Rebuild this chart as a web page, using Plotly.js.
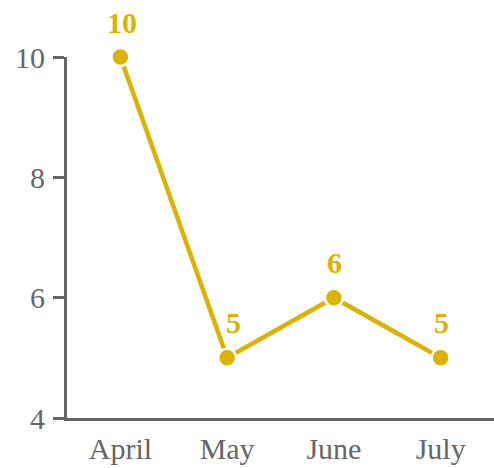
<!DOCTYPE html>
<html>
<head>
<meta charset="utf-8">
<script src="https://cdn.plot.ly/plotly-3.0.1.min.js"></script>
<style>
  html, body { margin: 0; padding: 0; background: #fff; }
  #chart { width: 494px; height: 468px; }
</style>
</head>
<body>
<div id="chart"></div>
<script>
// Monthly values
const months = ['April', 'May', 'June', 'July'];
const values = [10, 5, 6, 5];
const yTicks = [4, 6, 8, 10];

const gold = '#DBB300';
const grey = '#666666';
const serif = '"Liberation Serif", "DejaVu Serif", serif';

// Horizontal nudge for each value label
const labelShift = [2, 6, 1, 1];

const trace = {
  type: 'scatter',
  mode: 'lines+markers',
  x: months,
  y: values,
  line: { color: gold, width: 4.5 },
  marker: { color: gold, size: 18, line: { color: '#ffffff', width: 2.5 } },
  cliponaxis: false,
  hoverinfo: 'skip'
};

// Value labels above each point
const annotations = months.map((m, i) => ({
  x: m,
  y: values[i],
  xref: 'x',
  yref: 'y',
  text: String(values[i]),
  showarrow: false,
  xshift: labelShift[i],
  yshift: 35,
  font: { family: serif, size: 30, color: gold, weight: 'bold' }
}));

const layout = {
  width: 494,
  height: 468,
  margin: { l: 67, r: 0, t: 57, b: 50 },
  paper_bgcolor: '#ffffff',
  plot_bgcolor: '#ffffff',
  showlegend: false,
  font: { family: serif, color: grey },
  annotations: annotations,
  xaxis: {
    type: 'category',
    range: [-0.5, 3.5],
    showline: true,
    linecolor: grey,
    linewidth: 3,
    ticks: '',
    showgrid: false,
    zeroline: false,
    tickfont: { family: serif, size: 30, color: grey },
    ticklabelstandoff: 2
  },
  yaxis: {
    range: [4, 10],
    tickvals: yTicks,
    ticktext: yTicks.map(String),
    showline: true,
    linecolor: grey,
    linewidth: 3,
    ticks: 'outside',
    ticklen: 11,
    tickwidth: 3,
    tickcolor: grey,
    showgrid: false,
    zeroline: false,
    tickfont: { family: serif, size: 30, color: grey },
    ticklabelstandoff: 2
  }
};

Plotly.newPlot('chart', [trace], layout, { displayModeBar: false, staticPlot: true });
</script>
</body>
</html>
